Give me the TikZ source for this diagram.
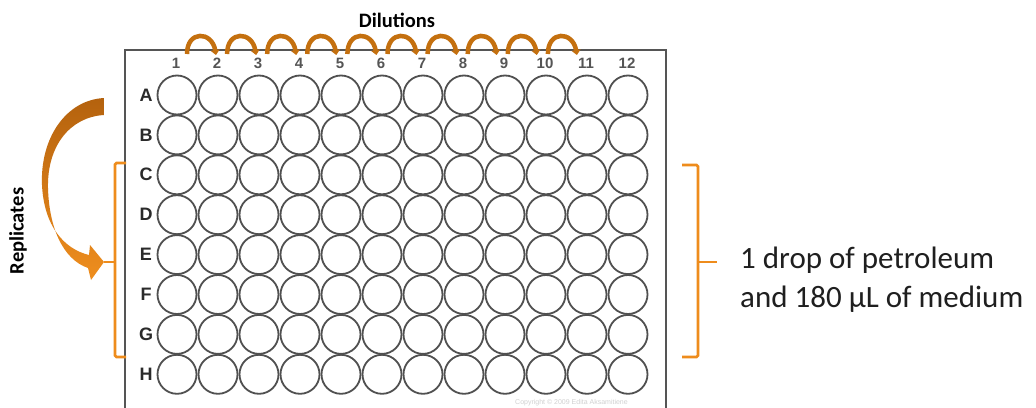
\documentclass[tikz,border=0pt]{standalone}
\usepackage{fontspec}
\setmainfont{Carlito}
\newfontfamily\platefont{Liberation Sans}
\usetikzlibrary{arrows.meta}
\definecolor{plategray}{HTML}{555555}
\definecolor{wellgray}{HTML}{505050}
\definecolor{labelgray}{HTML}{2A2A2A}
\definecolor{darkorange}{HTML}{C4700F}
\definecolor{bracketorange}{HTML}{EE8C1C}
\definecolor{arrowtop}{HTML}{B4620E}
\definecolor{arrowbottom}{HTML}{EF8E1E}
\tikzset{
  well/.style={circle,draw=wellgray,line width=1.8pt,minimum size=39pt,inner sep=0pt},
  rowlabel/.style={font=\platefont\bfseries\fontsize{18}{18}\selectfont,text=labelgray,inner sep=0pt},
  collabel/.style={font=\platefont\bfseries\fontsize{15}{15}\selectfont,text=labelgray!80!white,inner sep=0pt},
  heading/.style={font=\bfseries\fontsize{20.5}{20.5}\selectfont,text=black,inner sep=0pt},
  bodytext/.style={font=\fontsize{31}{38}\selectfont,text=black!88,inner sep=0pt},
  bracketline/.style={draw=bracketorange,line width=2.7pt,rounded corners=1.5pt},
  dilution/.style={draw=darkorange,line width=4.5pt,-{Triangle[width=9pt,length=5pt]}},
}
\begin{document}
\begin{tikzpicture}[x=1pt,y=-1pt]
  \useasboundingbox (0,0) rectangle (1036,407);
  \clip (0,0) rectangle (1036,407);
  \fill[white] (0,0) rectangle (1036,407);

  % the 96-well plate
  \draw[plategray,line width=1.5pt] (125,430) -- (125,50) -- (666,50) -- (666,430);

  % wells, row letters and column numbers
  \foreach \r/\name [count=\i] in {A,B,C,D,E,F,G,H} {
    \node[rowlabel] (row-\name) at (146,{95+39.9*(\i-1)}) {\name};
    \foreach \c in {1,...,12} {
      \node[well] (w-\name-\c) at ({177+41*(\c-1)},{95+39.9*(\i-1)}) {};
    }
  }
  \foreach \c in {1,...,12} {
    \node[collabel] (col-\c) at ({177+41*(\c-1)-1},63) {\c};
  }
  \node[font=\platefont\fontsize{7}{7}\selectfont,text=black!18,anchor=base west,inner sep=0pt]
    (copyright) at (515,404) {Copyright \textcopyright{} 2009 Edita Aksamitiene};

  % serial dilution arcs across the columns
  \foreach \k in {1,...,10} {
    \coordinate (d-from-\k) at ({187+40.1*(\k-1)},54);
    \coordinate (d-to-\k) at ({216+40.1*(\k-1)},55);
    \draw[dilution] (d-from-\k) .. controls ++(0,-24) and ++(-4,-24) .. (d-to-\k);
  }
  \node[heading] (dilutions) at (397,20) {Dilutions};

  % brackets grouping rows C to G
  \coordinate (lb-top) at (126,163);
  \coordinate (lb-bot) at (126,357);
  \coordinate (lb-tip) at (104,262);
  \draw[bracketline] (lb-top) -- (115,163) -- (115,357) -- (lb-bot);
  \draw[bracketline] (115,262) -- (lb-tip);

  \coordinate (rb-top) at (682,165);
  \coordinate (rb-bot) at (682,357);
  \coordinate (rb-tip) at (717,262);
  \draw[bracketline] (rb-top) -- (698,165) -- (698,357) -- (rb-bot);
  \draw[bracketline] (698,262) -- (rb-tip);

  % replicate arrow from row A down to the bracket
  \shade[top color=arrowtop,bottom color=arrowbottom,shading angle=0]
    (104,98) .. controls (66,100) and (40,138) .. (42,185)
    .. controls (44,226) and (64,249) .. (89,255)
    -- (90,245) -- (lb-tip) -- (91,280) -- (88,268)
    .. controls (62,259) and (49,226) .. (48,188)
    .. controls (47,146) and (70,117) .. (104,115) -- cycle;
  \node[heading,rotate=90] (replicates) at (18,231) {Replicates};

  % description of the well contents
  \node[bodytext,anchor=base west] (desc-1) at (740,268) {1 drop of petroleum};
  \node[bodytext,anchor=base west] (desc-2) at (740,307) {and 180 µL of medium};
\end{tikzpicture}
\end{document}
